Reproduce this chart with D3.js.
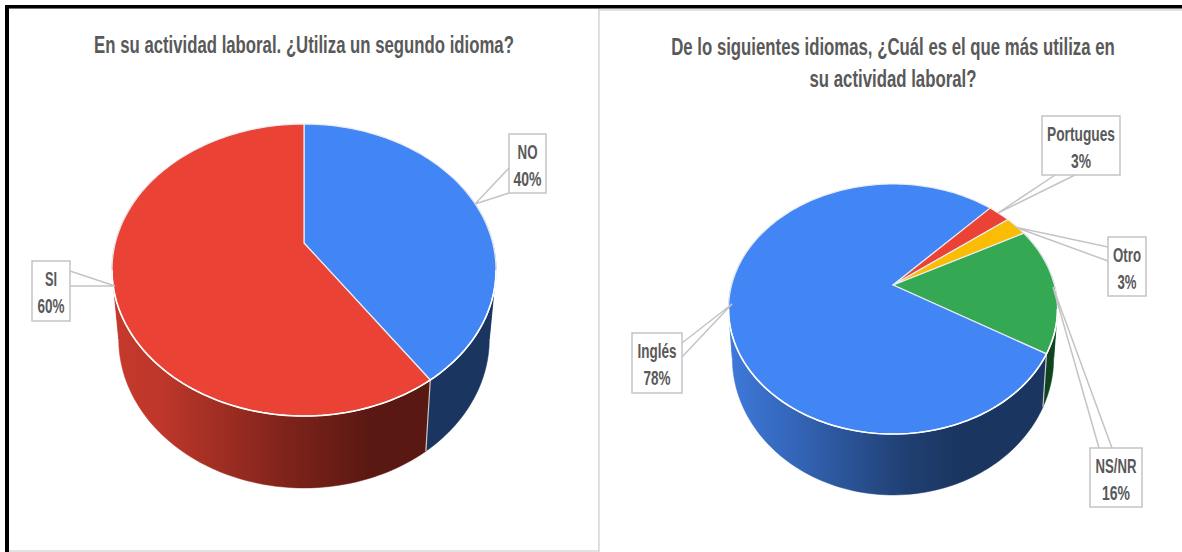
<!DOCTYPE html>
<html>
<head>
  <meta charset="utf-8">
  <script src="https://d3js.org/d3.v7.min.js"></script>
  <style>
    html, body { margin: 0; padding: 0; background: #fff; }
    svg { display: block; }
    text { font-family: "Liberation Sans", Arial, sans-serif; font-weight: bold; fill: #595959; text-anchor: middle; }
  </style>
</head>
<body>
  <div id="chart"></div>
  <script type="text/javascript">
  // data
  var leftCategories = ["NO", "SI"];
  var leftValues = [40.4, 59.6];
  var leftLabels = ["40%", "60%"];

  var rightCategories = ["NS/NR", "Inglés", "Portugues", "Otro"];
  var rightValues = [16.4, 78.4, 2.6, 2.6];
  var rightLabels = ["16%", "78%", "3%", "3%"];

  var leftTitle = ["En su actividad laboral. ¿Utiliza un segundo idioma?"];
  var rightTitle = ["De lo siguientes idiomas, ¿Cuál es el que más utiliza en", "su actividad laboral?"];

  var width = 1182, height = 552;
  var svg = d3.select("#chart").append("svg")
      .attr("width", width)
      .attr("height", height);

  // panels and the black frame
  svg.append("rect").attr("x", 8).attr("y", 8).attr("width", 591).attr("height", 543)
      .attr("fill", "#fff").attr("stroke", "#d9d9d9").attr("stroke-width", 1.5);
  svg.append("rect").attr("x", 599).attr("y", 10).attr("width", 590).attr("height", 560)
      .attr("fill", "#fff").attr("stroke", "#d9d9d9").attr("stroke-width", 1.5);
  svg.append("rect").attr("x", 5).attr("y", 5).attr("width", 1177).attr("height", 3.5).attr("fill", "#000");
  svg.append("rect").attr("x", 5).attr("y", 5).attr("width", 4).attr("height", 547).attr("fill", "#000");

  var defs = svg.append("defs");
  function wallGradient(id, x1, x2, stops) {
    var g = defs.append("linearGradient").attr("id", id)
        .attr("gradientUnits", "userSpaceOnUse")
        .attr("x1", x1).attr("x2", x2).attr("y1", 0).attr("y2", 0);
    stops.forEach(function(s) {
      g.append("stop").attr("offset", s[0]).attr("stop-color", s[1]);
    });
    return "url(#" + id + ")";
  }

  var leftStyle = {
    cx: 304, cy: 243, a: 188.7, b: 141, k: 0.185, shrinkX: 0.965, shrinkY: 1.02, depth: 68.5, start: 0,
    colors: ["#4285f4", "#ea4335"],
    walls: ["#1a3560", wallGradient("wallRed", 115, 425, [[0, "#c5392c"], [0.15, "#bd372a"], [0.55, "#7f231a"], [0.82, "#5a1812"], [1, "#5a1812"]])]
  };
  var rightStyle = {
    cx: 893, cy: 285, a: 161.4, b: 120.4, k: 0.192, shrinkX: 0.977, shrinkY: 1.097, depth: 46.5, start: 62,
    colors: ["#34a853", "#4285f4", "#ea4335", "#fbbc04"],
    walls: ["#0f4420", wallGradient("wallBlue", 733, 1045, [[0, "#3d78d8"], [0.2, "#3465b8"], [0.55, "#204073"], [0.72, "#1a3560"], [1, "#1a3560"]]), "#8a271f", "#94700a"]
  };

  // callout boxes: box, leader base on the box, leader tip, squeezed text widths
  var leftCallouts = [
    { box: [509, 134, 37, 59], base: [[509, 168], [509, 193]], tip: [475, 204], nameW: 20, pctW: 28 },
    { box: [32, 261, 38, 60], base: [[70, 286], [70, 271]], tip: [115, 286], nameW: 12, pctW: 27 }
  ];
  var rightCallouts = [
    { box: [1090, 448, 52, 59], base: [[1099, 448], [1112, 448]], tip: [1053, 287], nameW: 41, pctW: 28 },
    { box: [632, 333, 50, 60], base: [[682, 357], [682, 343]], tip: [732, 304], nameW: 39, pctW: 27 },
    { box: [1042, 116, 78, 59], base: [[1055, 175], [1075, 175]], tip: [998, 213], nameW: 68, pctW: 20 },
    { box: [1108, 237, 38, 59], base: [[1108, 247], [1108, 261]], tip: [1015, 227], nameW: 28, pctW: 19 }
  ];

  // the original font is a narrow one, so squeeze the text to the width it has in the picture
  function squeezedText(parent, str, x, y, size, w) {
    var t = parent.append("text")
        .attr("font-size", size)
        .text(str);
    var sx = w / t.node().getComputedTextLength();
    t.attr("transform", "translate(" + x + "," + y + ") scale(" + sx + ",1)");
    return t;
  }

  function drawTitle(lines, cx, ys, widths) {
    lines.forEach(function(line, i) {
      squeezedText(svg, line, cx, ys[i], 24, widths[i]);
    });
  }

  function drawPie(categories, values, labels, st, callouts) {
    var toRad = Math.PI / 180;
    var pie = d3.pie().sort(null)
        .startAngle(st.start * toRad)
        .endAngle((st.start + 360) * toRad);
    var arcs = pie(values);

    // circle -> tilted disc with some perspective, so the apex sits above the ellipse centre
    function project(t, sx, sy, dy) {
      var u = Math.sin(t), v = -Math.cos(t);
      var d = 1 - st.k * v;
      return [st.cx + sx * st.a * u / d, st.cy + dy + sy * st.b * v / d];
    }
    function top(t) { return project(t, 1, 1, 0); }
    function bottom(t) { return project(t, st.shrinkX, st.shrinkY, st.depth); }
    function samples(a0, a1) {
      var n = Math.max(2, Math.ceil((a1 - a0) / (toRad * 1.5)));
      return d3.range(n + 1).map(function(i) { return a0 + (a1 - a0) * i / n; });
    }

    var g = svg.append("g");
    var line = d3.line().curve(d3.curveLinear);

    // walls, cut where the rim folds over at the sides or the polygon cancels itself out
    var fold = Math.acos(-st.k);
    var breaks = [60 * toRad, fold, 2 * Math.PI - fold, 300 * toRad];
    arcs.forEach(function(d, i) {
      d3.pairs(breaks).forEach(function(p) {
        var a0 = Math.max(d.startAngle, p[0]), a1 = Math.min(d.endAngle, p[1]);
        if (a1 <= a0) return;
        var ts = samples(a0, a1);
        var pts = ts.map(top).concat(ts.slice().reverse().map(bottom));
        g.append("path").attr("d", line(pts) + "Z")
            .attr("fill", st.walls[i])
            .attr("stroke", st.walls[i]).attr("stroke-width", 0.5);
      });
    });
    // seams between the walls
    arcs.forEach(function(d) {
      var t = d.startAngle;
      if (t < 90 * toRad || t > 270 * toRad) return;
      g.append("path").attr("d", line([top(t), bottom(t)]))
          .attr("stroke", "#c9c9c9").attr("stroke-width", 1.2).attr("fill", "none");
    });
    // top face
    var apex = [st.cx, st.cy];
    arcs.forEach(function(d, i) {
      var pts = [apex].concat(samples(d.startAngle, d.endAngle).map(top));
      g.append("path").attr("d", line(pts) + "Z")
          .attr("fill", st.colors[i])
          .attr("stroke", "#e8ecf2").attr("stroke-width", 1.2)
          .attr("stroke-linejoin", "round");
    });
    // white rim along the front of the face
    var rim = samples(fold, 2 * Math.PI - fold);
    g.append("path").attr("d", line(rim.map(top)))
        .attr("fill", "none").attr("stroke", "#fff").attr("stroke-width", 1.6);

    // callouts
    callouts.forEach(function(c, i) {
      var b = c.box;
      var lead = [c.base[0], c.tip, c.base[1]];
      g.append("rect").attr("x", b[0]).attr("y", b[1]).attr("width", b[2]).attr("height", b[3])
          .attr("fill", "#fff").attr("stroke", "#c4c4c4").attr("stroke-width", 1.5);
      g.append("path").attr("d", line(lead))
          .attr("fill", "none").attr("stroke", "#c4c4c4").attr("stroke-width", 1.5);
      var mx = b[0] + b[2] / 2;
      squeezedText(g, categories[i], mx, b[1] + 25, 20, c.nameW);
      squeezedText(g, labels[i], mx, b[1] + 52, 20, c.pctW);
    });
  }

  drawTitle(leftTitle, 304, [53], [420]);
  drawTitle(rightTitle, 893, [55, 87], [444, 167]);

  drawPie(leftCategories, leftValues, leftLabels, leftStyle, leftCallouts);
  drawPie(rightCategories, rightValues, rightLabels, rightStyle, rightCallouts);
  </script>
</body>
</html>
